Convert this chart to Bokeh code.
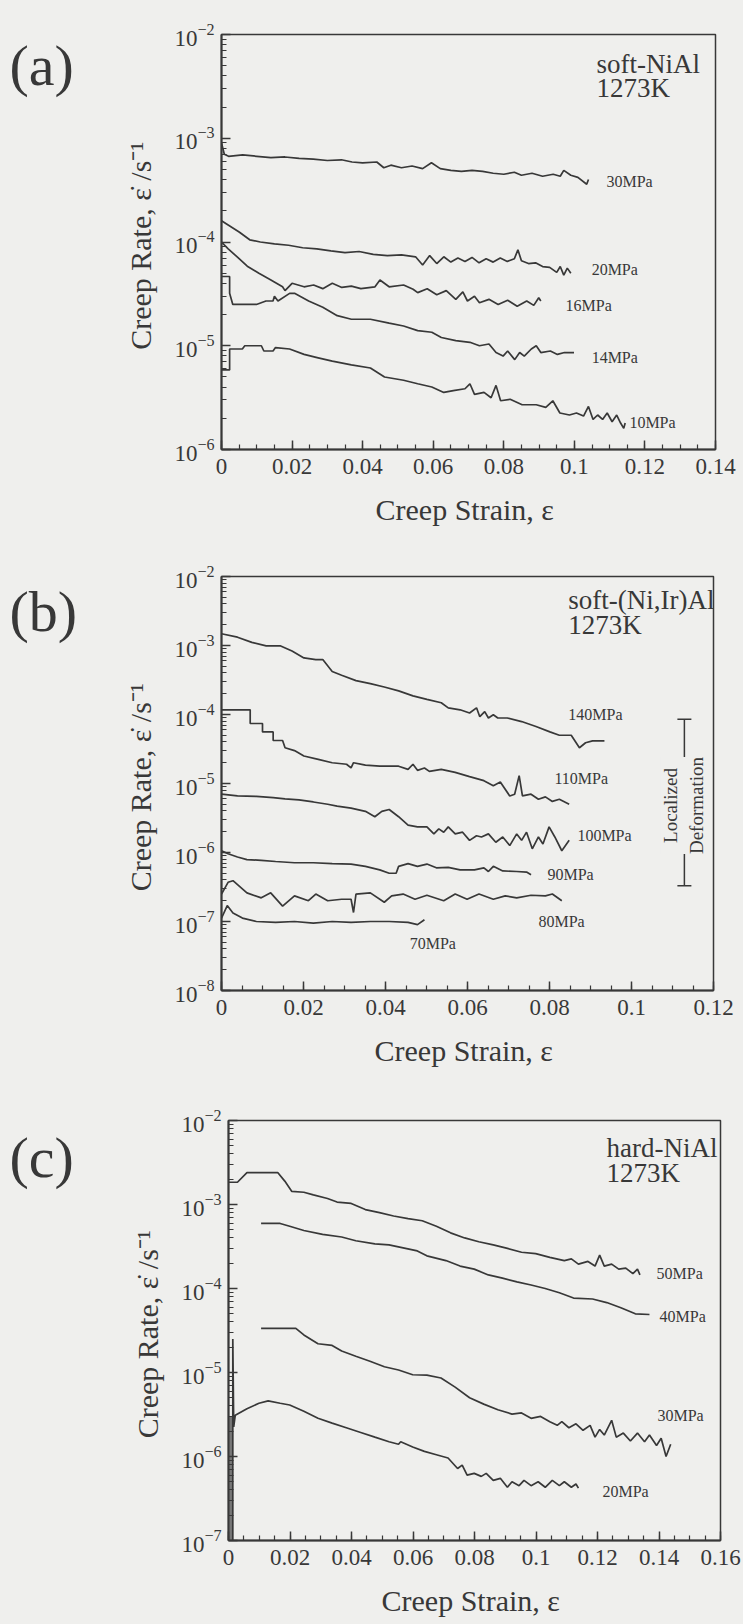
from bokeh.plotting import figure
from bokeh.layouts import column, row
from bokeh.models import (ColumnDataSource, LabelSet, Label, SingleIntervalTicker,
                          LogTicker, CustomJSTickFormatter, Whisker, TeeHead, Range1d)
from bokeh.core.properties import value
from bokeh.embed import file_html
from bokeh.resources import INLINE

# ---------------- data (strain, creep rate) ----------------
# panel (a) soft-NiAl 1273K
a30 = [(0.0, 9.0e-4), (0.0008, 7.0e-4), (0.002, 6.7e-4), (0.006, 6.9e-4), (0.010, 6.7e-4),
       (0.014, 6.5e-4), (0.018, 6.6e-4), (0.022, 6.4e-4), (0.026, 6.3e-4), (0.030, 6.1e-4),
       (0.034, 6.2e-4), (0.037, 5.9e-4), (0.040, 5.8e-4), (0.044, 5.9e-4), (0.046, 5.2e-4),
       (0.048, 5.5e-4), (0.051, 5.2e-4), (0.054, 5.4e-4), (0.057, 5.1e-4), (0.0595, 5.8e-4),
       (0.062, 5.1e-4), (0.065, 4.9e-4), (0.068, 4.8e-4), (0.071, 4.9e-4), (0.074, 4.8e-4),
       (0.077, 4.6e-4), (0.080, 4.5e-4), (0.083, 4.7e-4), (0.085, 4.4e-4), (0.088, 4.6e-4),
       (0.091, 4.3e-4), (0.094, 4.5e-4), (0.096, 4.3e-4), (0.097, 4.9e-4), (0.099, 4.4e-4),
       (0.101, 4.2e-4), (0.1035, 3.6e-4), (0.104, 4.0e-4)]
a20 = [(0.0, 1.6e-4), (0.002, 1.45e-4), (0.005, 1.25e-4), (0.008, 1.05e-4), (0.011, 1.0e-4),
       (0.015, 9.6e-5), (0.019, 9.3e-5), (0.023, 8.8e-5), (0.027, 8.6e-5), (0.031, 8.2e-5),
       (0.035, 7.9e-5), (0.039, 8.1e-5), (0.043, 7.6e-5), (0.047, 7.4e-5), (0.051, 7.5e-5),
       (0.055, 7.2e-5), (0.057, 6.0e-5), (0.059, 7.4e-5), (0.061, 6.2e-5), (0.063, 7.2e-5),
       (0.065, 6.4e-5), (0.067, 7.0e-5), (0.069, 6.5e-5), (0.071, 7.1e-5), (0.073, 6.3e-5),
       (0.075, 6.9e-5), (0.077, 6.4e-5), (0.079, 7.0e-5), (0.081, 6.5e-5), (0.083, 6.9e-5),
       (0.084, 8.4e-5), (0.085, 6.6e-5), (0.087, 6.2e-5), (0.089, 6.3e-5), (0.091, 5.8e-5),
       (0.093, 5.7e-5), (0.095, 5.1e-5), (0.096, 5.8e-5), (0.097, 4.8e-5), (0.098, 5.6e-5),
       (0.099, 5.0e-5)]
a16 = [(0.0, 1.0e-4), (0.0019, 8.6e-5), (0.0046, 7.1e-5), (0.0073, 5.85e-5), (0.0106, 5.0e-5),
       (0.014, 4.3e-5), (0.0173, 3.7e-5), (0.018, 3.4e-5), (0.020, 4.0e-5), (0.0234, 3.7e-5),
       (0.0261, 3.85e-5), (0.0287, 3.55e-5), (0.0314, 4.0e-5), (0.0341, 3.65e-5), (0.0368, 3.75e-5),
       (0.0395, 3.55e-5), (0.0435, 3.7e-5), (0.0449, 4.3e-5), (0.0475, 3.7e-5), (0.0516, 3.85e-5),
       (0.0543, 3.5e-5), (0.0556, 3.25e-5), (0.0583, 3.55e-5), (0.061, 3.1e-5), (0.0637, 3.4e-5),
       (0.0664, 2.8e-5), (0.0684, 3.3e-5), (0.0697, 2.7e-5), (0.0717, 3.0e-5), (0.0731, 2.6e-5),
       (0.0758, 2.8e-5), (0.0784, 2.5e-5), (0.0811, 2.75e-5), (0.0838, 2.4e-5), (0.0865, 2.7e-5),
       (0.0885, 2.45e-5), (0.0899, 2.9e-5), (0.0905, 2.7e-5)]
a14 = [(0.0, 4.65e-5), (0.0023, 4.65e-5), (0.0023, 3.2e-5), (0.0032, 2.5e-5), (0.0099, 2.5e-5),
       (0.0126, 2.7e-5), (0.0146, 2.7e-5), (0.015, 3.0e-5), (0.016, 2.7e-5), (0.0193, 3.2e-5),
       (0.0207, 3.2e-5), (0.0247, 2.7e-5), (0.0287, 2.35e-5), (0.0328, 1.95e-5), (0.0368, 1.8e-5),
       (0.0422, 1.8e-5), (0.0475, 1.65e-5), (0.0516, 1.55e-5), (0.0556, 1.4e-5), (0.0596, 1.35e-5),
       (0.0623, 1.2e-5), (0.0664, 1.12e-5), (0.0704, 1.08e-5), (0.0731, 1.0e-5), (0.0758, 1.04e-5),
       (0.0778, 8.6e-6), (0.0798, 7.95e-6), (0.0811, 8.9e-6), (0.0831, 7.35e-6), (0.0845, 8.6e-6),
       (0.0858, 7.95e-6), (0.0878, 9.3e-6), (0.0892, 1.0e-5), (0.0905, 8.6e-6), (0.0932, 8.9e-6),
       (0.0952, 8.25e-6), (0.0972, 8.6e-6), (0.0999, 8.6e-6)]
a10 = [(0.0, 5.85e-6), (0.0023, 5.85e-6), (0.0023, 9.3e-6), (0.0059, 9.3e-6), (0.0066, 1.0e-5),
       (0.0113, 1.0e-5), (0.012, 8.9e-6), (0.0146, 8.9e-6), (0.0153, 9.6e-6), (0.0193, 9.3e-6),
       (0.0234, 8.25e-6), (0.0274, 7.65e-6), (0.0314, 7.1e-6), (0.0368, 6.55e-6), (0.0422, 6.1e-6),
       (0.0462, 5.0e-6), (0.0516, 4.65e-6), (0.0556, 4.3e-6), (0.0596, 4.0e-6), (0.063, 3.55e-6),
       (0.0657, 3.7e-6), (0.069, 3.85e-6), (0.0704, 4.3e-6), (0.0717, 3.4e-6), (0.0744, 3.55e-6),
       (0.0764, 3.15e-6), (0.0778, 4.15e-6), (0.0791, 2.95e-6), (0.0818, 3.05e-6), (0.0852, 2.7e-6),
       (0.0892, 2.7e-6), (0.0919, 2.55e-6), (0.0939, 2.95e-6), (0.0959, 2.25e-6), (0.0986, 2.15e-6),
       (0.1006, 2.25e-6), (0.1026, 2.1e-6), (0.104, 2.6e-6), (0.1053, 1.95e-6), (0.1066, 2.15e-6),
       (0.108, 1.95e-6), (0.1093, 2.25e-6), (0.1107, 1.85e-6), (0.112, 2.15e-6), (0.1131, 1.8e-6),
       (0.114, 1.6e-6), (0.1144, 1.8e-6)]

# panel (b) soft-(Ni,Ir)Al 1273K
b140 = [(0.0, 1.48e-3), (0.0039, 1.32e-3), (0.0074, 1.11e-3), (0.0109, 9.9e-4), (0.0143, 9.9e-4),
        (0.0172, 8.3e-4), (0.0201, 6.6e-4), (0.023, 6.25e-4), (0.0247, 6.25e-4), (0.027, 4.2e-4),
        (0.0293, 3.7e-4), (0.0328, 3.1e-4), (0.0363, 2.8e-4), (0.0397, 2.5e-4), (0.0432, 2.2e-4),
        (0.0467, 1.86e-4), (0.0501, 1.66e-4), (0.0536, 1.48e-4), (0.0553, 1.25e-4), (0.0582, 1.17e-4),
        (0.0605, 1.05e-4), (0.0622, 1.25e-4), (0.063, 9.3e-5), (0.0642, 1.1e-4), (0.0651, 8.9e-5),
        (0.0663, 9.9e-5), (0.0674, 8.9e-5), (0.0697, 8.9e-5), (0.0732, 7.9e-5), (0.0767, 6.7e-5),
        (0.0801, 5.6e-5), (0.0824, 5.0e-5), (0.0853, 5.0e-5), (0.0873, 3.3e-5), (0.0888, 3.9e-5),
        (0.0905, 4.15e-5), (0.0934, 4.15e-5)]
b110 = [(0.0, 1.17e-4), (0.007, 1.17e-4), (0.007, 7.4e-5), (0.01, 7.4e-5), (0.01, 5.6e-5),
        (0.0126, 5.6e-5), (0.0126, 4.2e-5), (0.0149, 4.2e-5), (0.0155, 3.3e-5), (0.0178, 3.0e-5),
        (0.0201, 2.5e-5), (0.0236, 2.24e-5), (0.027, 2.0e-5), (0.0305, 1.9e-5), (0.0316, 1.68e-5),
        (0.0322, 2.0e-5), (0.0351, 1.85e-5), (0.0386, 1.78e-5), (0.0432, 1.78e-5), (0.0455, 1.6e-5),
        (0.0467, 1.9e-5), (0.0478, 1.55e-5), (0.0495, 1.68e-5), (0.0507, 1.5e-5), (0.0536, 1.6e-5),
        (0.057, 1.45e-5), (0.0605, 1.26e-5), (0.064, 1.1e-5), (0.0663, 9.3e-6), (0.068, 1.05e-5),
        (0.0703, 6.6e-6), (0.0715, 7.0e-6), (0.0726, 1.3e-5), (0.0734, 6.6e-6), (0.0755, 7.0e-6),
        (0.0773, 5.9e-6), (0.079, 6.4e-6), (0.0807, 5.5e-6), (0.0824, 5.9e-6), (0.0848, 5.0e-6)]
b100 = [(0.0, 7.0e-6), (0.0039, 6.6e-6), (0.0085, 6.5e-6), (0.0126, 6.25e-6), (0.0155, 6.0e-6),
        (0.0189, 5.8e-6), (0.0224, 5.4e-6), (0.0259, 5.0e-6), (0.0282, 4.7e-6), (0.0316, 4.4e-6),
        (0.0351, 3.95e-6), (0.0374, 3.3e-6), (0.0391, 3.95e-6), (0.0409, 4.2e-6), (0.0432, 3.3e-6),
        (0.0455, 2.5e-6), (0.0478, 2.35e-6), (0.0501, 2.35e-6), (0.0518, 1.86e-6), (0.053, 2.2e-6),
        (0.0542, 1.97e-6), (0.0553, 2.35e-6), (0.057, 1.86e-6), (0.0588, 1.97e-6), (0.0605, 1.5e-6),
        (0.0622, 1.75e-6), (0.0634, 1.68e-6), (0.0651, 1.86e-6), (0.0669, 1.41e-6), (0.0686, 1.68e-6),
        (0.0703, 1.26e-6), (0.072, 1.86e-6), (0.0732, 1.5e-6), (0.0744, 1.97e-6), (0.0758, 1.13e-6),
        (0.0773, 1.68e-6), (0.0784, 1.33e-6), (0.0799, 2.35e-6), (0.0813, 1.68e-6), (0.083, 1.06e-6),
        (0.0848, 1.5e-6)]
b90 = [(0.0, 1.06e-6), (0.0016, 9.6e-7), (0.0039, 8.6e-7), (0.0062, 7.9e-7), (0.0097, 7.7e-7),
       (0.0132, 7.4e-7), (0.0178, 7.1e-7), (0.0224, 7.1e-7), (0.027, 6.9e-7), (0.0316, 6.8e-7),
       (0.0351, 6.3e-7), (0.0386, 5.6e-7), (0.0409, 5.0e-7), (0.0426, 5.0e-7), (0.0432, 6.3e-7),
       (0.0455, 6.9e-7), (0.0478, 6.3e-7), (0.0501, 6.8e-7), (0.0524, 6.0e-7), (0.0553, 6.1e-7),
       (0.0582, 5.6e-7), (0.0617, 5.6e-7), (0.064, 6.0e-7), (0.0651, 5.3e-7), (0.0663, 6.3e-7),
       (0.0686, 5.4e-7), (0.072, 5.3e-7), (0.0744, 5.2e-7), (0.0755, 4.75e-7)]
b80 = [(0.0, 2.5e-7), (0.0016, 3.7e-7), (0.0028, 3.9e-7), (0.0062, 2.6e-7), (0.0097, 2.2e-7),
       (0.012, 2.6e-7), (0.0149, 1.67e-7), (0.0178, 2.35e-7), (0.0212, 2.0e-7), (0.023, 2.5e-7),
       (0.0259, 2.0e-7), (0.0293, 2.1e-7), (0.0316, 2.1e-7), (0.0322, 1.35e-7), (0.0328, 2.5e-7),
       (0.0363, 2.6e-7), (0.0397, 1.9e-7), (0.0415, 2.35e-7), (0.0443, 2.5e-7), (0.0472, 2.1e-7),
       (0.0501, 2.4e-7), (0.0542, 2.0e-7), (0.057, 2.5e-7), (0.0599, 2.1e-7), (0.0628, 2.5e-7),
       (0.0663, 2.1e-7), (0.0692, 2.35e-7), (0.072, 2.2e-7), (0.0755, 2.4e-7), (0.079, 2.35e-7),
       (0.0807, 2.5e-7), (0.083, 2.0e-7)]
b70 = [(0.0, 1.12e-7), (0.0014, 1.7e-7), (0.0028, 1.33e-7), (0.0051, 1.12e-7), (0.0085, 1.0e-7),
       (0.0132, 9.7e-8), (0.0178, 1.0e-7), (0.0224, 9.5e-8), (0.027, 1.0e-7), (0.0316, 9.7e-8),
       (0.0363, 1.0e-7), (0.0409, 1.0e-7), (0.0455, 9.7e-8), (0.0478, 9.0e-8), (0.0495, 1.06e-7)]

# panel (c) hard-NiAl 1273K
c50 = [(0.0, 1.84e-3), (0.0029, 1.84e-3), (0.006, 2.4e-3), (0.016, 2.4e-3), (0.0183, 1.9e-3),
       (0.0206, 1.43e-3), (0.0245, 1.4e-3), (0.0276, 1.3e-3), (0.0322, 1.18e-3), (0.0353, 1.07e-3),
       (0.0399, 1.03e-3), (0.0445, 8.7e-4), (0.0491, 8.0e-4), (0.0537, 7.3e-4), (0.0584, 6.8e-4),
       (0.063, 6.4e-4), (0.0676, 5.5e-4), (0.0722, 4.6e-4), (0.0768, 4.0e-4), (0.0814, 3.6e-4),
       (0.0861, 3.3e-4), (0.0907, 3.0e-4), (0.0953, 2.7e-4), (0.0999, 2.6e-4), (0.1045, 2.35e-4),
       (0.1092, 2.15e-4), (0.1115, 2.25e-4), (0.1138, 1.95e-4), (0.1169, 2.1e-4), (0.1192, 1.85e-4),
       (0.1207, 2.5e-4), (0.1222, 1.85e-4), (0.1246, 1.95e-4), (0.1269, 1.7e-4), (0.1292, 1.75e-4),
       (0.1315, 1.5e-4), (0.133, 1.7e-4), (0.1338, 1.45e-4)]
c40 = [(0.0106, 5.95e-4), (0.0168, 5.95e-4), (0.0199, 5.5e-4), (0.0245, 4.9e-4), (0.0306, 4.4e-4),
       (0.0368, 4.1e-4), (0.0414, 3.7e-4), (0.0476, 3.4e-4), (0.0522, 3.3e-4), (0.0568, 3.05e-4),
       (0.0614, 2.8e-4), (0.0645, 2.45e-4), (0.0707, 2.15e-4), (0.0753, 1.85e-4), (0.0799, 1.7e-4),
       (0.0845, 1.45e-4), (0.0891, 1.33e-4), (0.0938, 1.2e-4), (0.0984, 1.1e-4), (0.103, 1.0e-4),
       (0.1076, 8.9e-5), (0.1122, 7.7e-5), (0.1184, 7.5e-5), (0.123, 6.8e-5), (0.1276, 5.9e-5),
       (0.1323, 5.0e-5), (0.1369, 4.9e-5)]
c30 = [(0.0106, 3.35e-5), (0.0219, 3.35e-5), (0.0245, 2.8e-5), (0.0291, 2.2e-5), (0.0337, 2.1e-5),
       (0.0368, 1.8e-5), (0.0414, 1.56e-5), (0.046, 1.36e-5), (0.0507, 1.17e-5), (0.0553, 1.07e-5),
       (0.0599, 9.4e-6), (0.0645, 9.3e-6), (0.0691, 8.6e-6), (0.0737, 6.7e-6), (0.0784, 5.0e-6),
       (0.083, 4.2e-6), (0.0876, 3.6e-6), (0.0922, 3.2e-6), (0.0953, 3.3e-6), (0.0984, 2.85e-6),
       (0.1015, 3.0e-6), (0.1045, 2.6e-6), (0.1069, 2.35e-6), (0.1084, 2.6e-6), (0.1107, 2.2e-6),
       (0.113, 2.45e-6), (0.1153, 2.05e-6), (0.1176, 2.35e-6), (0.1192, 1.7e-6), (0.1207, 2.1e-6),
       (0.1222, 1.8e-6), (0.1246, 2.7e-6), (0.1261, 1.7e-6), (0.1284, 1.9e-6), (0.1307, 1.53e-6),
       (0.133, 1.9e-6), (0.1353, 1.5e-6), (0.1369, 1.8e-6), (0.1392, 1.35e-6), (0.1407, 1.65e-6),
       (0.1423, 1.0e-6), (0.1438, 1.4e-6)]
c20 = [(0.0014, 1.0e-7), (0.0014, 2.5e-5), (0.0017, 2.25e-6), (0.0022, 3.1e-6), (0.006, 3.7e-6),
       (0.0099, 4.3e-6), (0.0129, 4.6e-6), (0.0168, 4.3e-6), (0.0199, 4.1e-6), (0.0245, 3.45e-6),
       (0.0291, 2.85e-6), (0.0337, 2.5e-6), (0.0383, 2.2e-6), (0.043, 1.93e-6), (0.0476, 1.7e-6),
       (0.0522, 1.5e-6), (0.0553, 1.4e-6), (0.056, 1.5e-6), (0.0599, 1.3e-6), (0.0637, 1.15e-6),
       (0.0676, 1.05e-6), (0.0714, 9.6e-7), (0.0745, 7.2e-7), (0.076, 7.9e-7), (0.0776, 6.0e-7),
       (0.0799, 6.3e-7), (0.0822, 5.8e-7), (0.0838, 6.3e-7), (0.0861, 5.2e-7), (0.0884, 5.5e-7),
       (0.0907, 4.3e-7), (0.0922, 5.0e-7), (0.0945, 4.5e-7), (0.0961, 5.2e-7), (0.0984, 4.5e-7),
       (0.1007, 5.0e-7), (0.103, 4.3e-7), (0.1053, 5.2e-7), (0.1076, 4.5e-7), (0.1092, 5.0e-7),
       (0.1115, 4.3e-7), (0.113, 4.7e-7), (0.1138, 4.2e-7)]
c20_transient = [(0.0006, 1.0e-7), (0.0006, 3.0e-6)]

# curve labels: text and anchor (strain, rate)
a_labels = ["30MPa", "20MPa", "16MPa", "14MPa", "10MPa"]
a_lab_pos = [(0.1091, 3.83e-4), (0.1049, 5.43e-5), (0.0975, 2.44e-5), (0.1049, 7.7e-6), (0.1156, 1.82e-6)]
b_labels = ["140MPa", "110MPa", "100MPa", "90MPa", "80MPa", "70MPa"]
b_lab_pos = [(0.0846, 1.0e-4), (0.0812, 1.18e-5), (0.0868, 1.76e-6), (0.0795, 4.8e-7), (0.0773, 1.0e-7), (0.0459, 4.8e-8)]
c_labels = ["50MPa", "40MPa", "30MPa", "20MPa"]
c_lab_pos = [(0.1392, 1.51e-4), (0.1402, 4.64e-5), (0.1395, 3.08e-6), (0.1216, 3.83e-7)]

# localized-deformation bracket in (b): strain, lower rate, upper rate
b_bracket_base = [0.1129]
b_bracket_lower = [3.3e-7]
b_bracket_upper = [8.5e-5]

# panel tags
panel_tags = ["(a)", "(b)", "(c)"]

BG = "#efefed"
INK = "#383838"
FONT = "Liberation Serif"
TAG_W = 100
BGSTYLE = {"background-color": BG}


def make_tag(height, text, ycenter):
    s = figure(width=TAG_W, height=height, x_range=Range1d(0, TAG_W), y_range=Range1d(height, 0),
               output_backend="svg", toolbar_location=None,
               min_border_left=0, min_border_right=0, min_border_top=0, min_border_bottom=0)
    s.axis.visible = False
    s.grid.visible = False
    s.outline_line_color = None
    s.background_fill_color = BG
    s.border_fill_color = BG
    s.text(x=[9], y=[ycenter], text=[text], text_font=value(FONT), text_font_size=value("58px"),
           text_baseline="middle", text_align="left", text_color=INK)
    return s


def make_fig(height, xmax, ymin, left, right, top, bottom):
    p = figure(width=743 - TAG_W, height=height, x_range=(0, xmax), y_range=(ymin, 1e-2),
               y_axis_type="log", output_backend="svg", toolbar_location=None,
               min_border_left=left - TAG_W, min_border_right=right,
               min_border_top=top, min_border_bottom=bottom)
    p.background_fill_color = BG
    p.border_fill_color = BG
    p.outline_line_color = INK
    p.outline_line_width = 1.5
    p.grid.visible = False
    p.xaxis.ticker = SingleIntervalTicker(interval=0.02, num_minor_ticks=4)
    p.xaxis.formatter = CustomJSTickFormatter(code="return String(+tick.toFixed(3));")
    p.yaxis.ticker = LogTicker(num_minor_ticks=10, mantissas=[1], desired_num_ticks=8)
    for ax in (p.xaxis[0], p.yaxis[0]):
        ax.axis_line_color = INK
        ax.axis_line_width = 2
        ax.major_tick_line_color = INK
        ax.minor_tick_line_color = INK
        ax.major_tick_line_width = 1.5
        ax.minor_tick_line_width = 1.2
        ax.major_tick_in = 9
        ax.major_tick_out = 0
        ax.minor_tick_in = 5
        ax.minor_tick_out = 0
        ax.major_label_text_font = FONT
        ax.major_label_text_font_size = "23px"
        ax.major_label_text_color = INK
        ax.axis_label_text_font = FONT
        ax.axis_label_text_font_size = "30px"
        ax.axis_label_text_font_style = "normal"
        ax.axis_label_text_color = INK
    p.xaxis.major_label_standoff = 9
    p.xaxis.axis_label_standoff = 16
    p.yaxis.major_label_standoff = 7
    p.yaxis.axis_label_standoff = 14
    p.xaxis.axis_label = "Creep Strain,  \u03b5"
    p.yaxis.axis_label = "Creep Rate,  \u03b5\u0307 /s\u207b\u00b9"
    return p


def add_curves(p, curves):
    for pts in curves:
        xs = [q[0] for q in pts]
        ys = [q[1] for q in pts]
        p.line(xs, ys, line_color=INK, line_width=1.7)


def add_curve_labels(p, texts, pos):
    src = ColumnDataSource(dict(x=[q[0] for q in pos], y=[q[1] for q in pos], t=texts))
    p.add_layout(LabelSet(x="x", y="y", text="t", source=src, text_font=value(FONT),
                          text_font_size=value("16px"), text_color=INK,
                          text_baseline="middle", text_align="left"))


def add_text(p, x, y, text, size, align="left", angle=0.0, bg=None):
    lab = Label(x=x, y=y, text=text, text_font=FONT, text_font_size=size,
                text_color=INK, text_baseline="middle", text_align=align, angle=angle)
    if bg is not None:
        lab.background_fill_color = bg
    p.add_layout(lab)


# ---------- (a) ----------
pa = make_fig(540, 0.14, 1e-6, 221, 28, 34, 91)
add_curves(pa, [a30, a20, a16, a14, a10])
add_curve_labels(pa, a_labels, a_lab_pos)
add_text(pa, 0.1063, 5.14e-3, "soft-NiAl", "27px")
add_text(pa, 0.1063, 3.02e-3, "1273K", "27px")
ta = make_tag(540, panel_tags[0], 40)

# ---------- (b) ----------
pb = make_fig(540, 0.12, 1e-8, 221, 30, 36, 90)
add_curves(pb, [b140, b110, b100, b90, b80, b70])
add_curve_labels(pb, b_labels, b_lab_pos)
add_text(pb, 0.0846, 4.49e-3, "soft-(Ni,Ir)Al", "27px")
add_text(pb, 0.0846, 1.95e-3, "1273K", "27px")
wsrc = ColumnDataSource(dict(base=b_bracket_base, lower=b_bracket_lower, upper=b_bracket_upper))
pb.add_layout(Whisker(base="base", lower="lower", upper="upper", source=wsrc, dimension="height",
                      line_color=INK, line_width=1.5,
                      upper_head=TeeHead(size=14, line_color=INK, line_width=1.5),
                      lower_head=TeeHead(size=14, line_color=INK, line_width=1.5)))
add_text(pb, 0.1127, 4.8e-6, "Localized\nDeformation", "19px", align="center",
         angle=1.5707963, bg=BG)
tb = make_tag(540, panel_tags[1], 45)

# ---------- (c) ----------
pc = make_fig(544, 0.16, 1e-7, 228, 23, 40, 84)
pc.line([q[0] for q in c20_transient], [q[1] for q in c20_transient],
        line_color="#777777", line_width=5)
add_curves(pc, [c50, c40, c30, c20])
add_curve_labels(pc, c_labels, c_lab_pos)
add_text(pc, 0.1229, 4.77e-3, "hard-NiAl", "27px")
add_text(pc, 0.1229, 2.34e-3, "1273K", "27px")
tc = make_tag(544, panel_tags[2], 48)

layout = column(row(ta, pa, spacing=0, styles=BGSTYLE),
                row(tb, pb, spacing=0, styles=BGSTYLE),
                row(tc, pc, spacing=0, styles=BGSTYLE),
                spacing=0, styles=BGSTYLE)
open("out.html", "w").write(file_html(layout, INLINE))
